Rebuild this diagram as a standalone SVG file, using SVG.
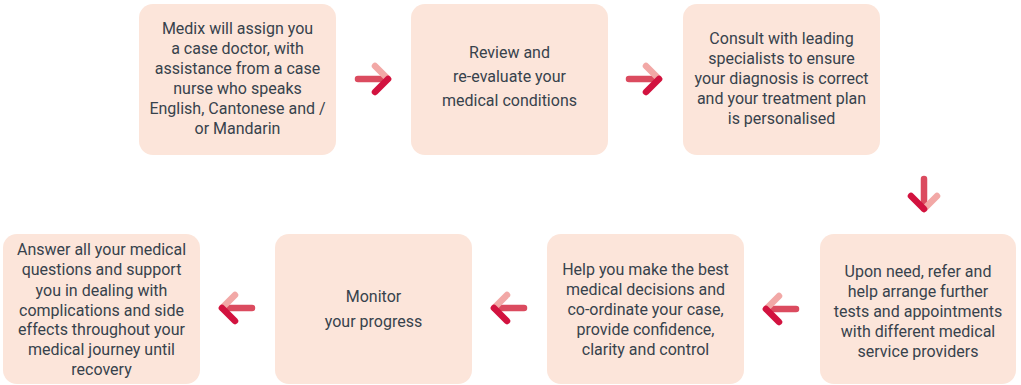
<svg xmlns="http://www.w3.org/2000/svg" width="1021" height="385" viewBox="0 0 1021 385">
<style>
.box{fill:#FCE5DA;}
.t{font-family:Roboto,"Liberation Sans",sans-serif;font-size:16px;fill:#37424C;text-anchor:middle;}
.sh{stroke:#DB4B5F;stroke-width:6.5;stroke-linecap:round;fill:none;}
.lt{stroke:#F2A8A6;stroke-width:6.5;stroke-linecap:round;fill:none;}
.dk{stroke:#D2123F;stroke-width:6.5;stroke-linecap:round;fill:none;}
</style>
<rect width="1021" height="385" fill="#FFFFFF"/>
<g id="node1">
<rect class="box" x="139" y="4" width="197" height="151" rx="14"/>
<text class="t" x="237.5" y="34">Medix will assign you</text>
<text class="t" x="237.5" y="54">a case doctor, with</text>
<text class="t" x="237.5" y="74">assistance from a case</text>
<text class="t" x="237.5" y="94">nurse who speaks</text>
<text class="t" x="237.5" y="114">English, Cantonese and /</text>
<text class="t" x="237.5" y="134">or Mandarin</text>
</g>
<g id="node2">
<rect class="box" x="411" y="4" width="197" height="151" rx="14"/>
<text class="t" x="509.5" y="58">Review and</text>
<text class="t" x="509.5" y="82">re-evaluate your</text>
<text class="t" x="509.5" y="106">medical conditions</text>
</g>
<g id="node3">
<rect class="box" x="683" y="4" width="197" height="151" rx="14"/>
<text class="t" x="781.5" y="44">Consult with leading</text>
<text class="t" x="781.5" y="64">specialists to ensure</text>
<text class="t" x="781.5" y="84">your diagnosis is correct</text>
<text class="t" x="781.5" y="104">and your treatment plan</text>
<text class="t" x="781.5" y="124">is personalised</text>
</g>
<g id="node4">
<rect class="box" x="820" y="234" width="196" height="150" rx="14"/>
<text class="t" x="918" y="277">Upon need, refer and</text>
<text class="t" x="918" y="297">help arrange further</text>
<text class="t" x="918" y="317">tests and appointments</text>
<text class="t" x="918" y="337">with different medical</text>
<text class="t" x="918" y="357">service providers</text>
</g>
<g id="node5">
<rect class="box" x="547" y="234" width="197" height="150" rx="14"/>
<text class="t" x="645.5" y="275">Help you make the best</text>
<text class="t" x="645.5" y="295">medical decisions and</text>
<text class="t" x="645.5" y="315">co-ordinate your case,</text>
<text class="t" x="645.5" y="335">provide confidence,</text>
<text class="t" x="645.5" y="355">clarity and control</text>
</g>
<g id="node6">
<rect class="box" x="275" y="234" width="197" height="150" rx="14"/>
<text class="t" x="373.5" y="302">Monitor</text>
<text class="t" x="373.5" y="327">your progress</text>
</g>
<g id="node7">
<rect class="box" x="3" y="234" width="197" height="150" rx="14"/>
<text class="t" x="101.5" y="255">Answer all your medical</text>
<text class="t" x="101.5" y="275">questions and support</text>
<text class="t" x="101.5" y="296">you in dealing with</text>
<text class="t" x="101.5" y="316">complications and side</text>
<text class="t" x="101.5" y="335">effects throughout your</text>
<text class="t" x="101.5" y="355">medical journey until</text>
<text class="t" x="101.5" y="375">recovery</text>
</g>
<g id="connectors">
<g>
<line class="sh" x1="358" y1="79" x2="386" y2="79"/>
<line class="lt" x1="375" y1="66" x2="388" y2="79"/>
<line class="dk" x1="388" y1="79" x2="375" y2="92"/>
</g>
<g>
<line class="sh" x1="629" y1="79" x2="657" y2="79"/>
<line class="lt" x1="646" y1="66" x2="659" y2="79"/>
<line class="dk" x1="659" y1="79" x2="646" y2="92"/>
</g>
<g>
<line class="sh" x1="924" y1="179" x2="924" y2="207"/>
<line class="lt" x1="937" y1="196" x2="924" y2="209"/>
<line class="dk" x1="911" y1="196" x2="924" y2="209"/>
</g>
<g>
<line class="sh" x1="796" y1="309" x2="768" y2="309"/>
<line class="lt" x1="779" y1="296" x2="766" y2="309"/>
<line class="dk" x1="766" y1="309" x2="779" y2="322"/>
</g>
<g>
<line class="sh" x1="524" y1="308" x2="496" y2="308"/>
<line class="lt" x1="507" y1="295" x2="494" y2="308"/>
<line class="dk" x1="494" y1="308" x2="507" y2="321"/>
</g>
<g>
<line class="sh" x1="252" y1="308" x2="224" y2="308"/>
<line class="lt" x1="235" y1="295" x2="222" y2="308"/>
<line class="dk" x1="222" y1="308" x2="235" y2="321"/>
</g>
</g>
</svg>
